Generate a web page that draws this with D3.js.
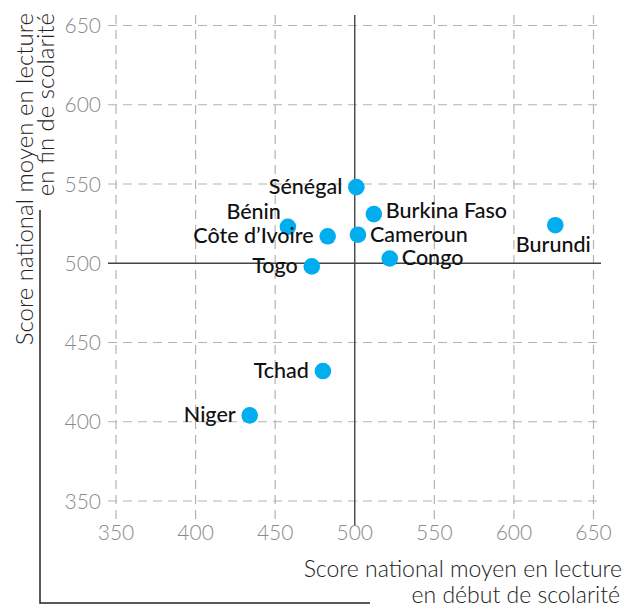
<!DOCTYPE html>
<html>
<head>
<meta charset="utf-8">
<script src="https://cdn.jsdelivr.net/npm/d3@7"></script>
<style>
  body { margin: 0; background: #fff; }
  text { font-family: Lato, "Open Sans", sans-serif; }
</style>
</head>
<body>
<div id="chart"></div>
<script>
// countries and their scores (start / end of schooling)
var countries = ["Sénégal", "Burkina Faso", "Burundi", "Cameroun", "Côte d\u2019Ivoire", "Bénin", "Congo", "Togo", "Tchad", "Niger"];
var debut = [501, 512, 626, 502, 483, 458, 522, 473, 480, 434];
var fin = [548, 531, 524, 518, 517, 523, 503, 498, 432, 404];
var ticks = [350, 400, 450, 500, 550, 600, 650];
// where the label sits relative to its dot
var labelSide = ["left", "rightup", "below", "right", "left", "aboveleft", "right", "left", "left", "left"];

var width = 626, height = 608;

var svg = d3.select("#chart").append("svg")
  .attr("width", width)
  .attr("height", height);

var x = d3.scaleLinear().domain([350, 650]).range([116, 593.5]);
var y = d3.scaleLinear().domain([350, 650]).range([501, 25.5]);

// dashed grid
var grid = svg.append("g");
grid.selectAll(".hgrid")
  .data(ticks.filter(function(t) { return t !== 500; }))
  .enter().append("line")
    .attr("x1", 108).attr("x2", 600)
    .attr("y1", function(d) { return y(d); })
    .attr("y2", function(d) { return y(d); })
    .attr("stroke", "#b3b3b3").attr("stroke-width", 1.2)
    .attr("stroke-dasharray", "9,6");
grid.selectAll(".vgrid")
  .data(ticks.filter(function(t) { return t !== 500; }))
  .enter().append("line")
    .attr("y1", 15).attr("y2", 523)
    .attr("x1", function(d) { return x(d); })
    .attr("x2", function(d) { return x(d); })
    .attr("stroke", "#b3b3b3").attr("stroke-width", 1.2)
    .attr("stroke-dasharray", "9,6");

// solid reference lines at 500
svg.append("line")
  .attr("x1", 108).attr("x2", 601)
  .attr("y1", y(500)).attr("y2", y(500))
  .attr("stroke", "#444").attr("stroke-width", 1.4);
svg.append("line")
  .attr("x1", x(500)).attr("x2", x(500))
  .attr("y1", 15).attr("y2", 525)
  .attr("stroke", "#444").attr("stroke-width", 1.4);

// tick labels
svg.selectAll(".ylab")
  .data(ticks)
  .enter().append("text")
    .attr("x", 101)
    .attr("y", function(d) { return y(d); })
    .attr("dy", ".36em")
    .attr("text-anchor", "end")
    .attr("font-size", 21).attr("font-weight", 300)
    .attr("fill", "#8a8a8a")
    .text(function(d) { return d; });
svg.selectAll(".xlab")
  .data(ticks)
  .enter().append("text")
    .attr("x", function(d) { return x(d); })
    .attr("y", 540)
    .attr("text-anchor", "middle")
    .attr("font-size", 21).attr("font-weight", 300)
    .attr("fill", "#8a8a8a")
    .text(function(d) { return d; });

// axis titles
svg.append("text")
  .attr("x", 622).attr("y", 577)
  .attr("text-anchor", "end")
  .attr("font-size", 23).attr("font-weight", 300).attr("fill", "#222")
  .text("Score national moyen en lecture");
svg.append("text")
  .attr("x", 620).attr("y", 603)
  .attr("text-anchor", "end")
  .attr("font-size", 23).attr("font-weight", 300).attr("fill", "#222")
  .text("en début de scolarité");

svg.append("text")
  .attr("transform", "translate(33,13) rotate(-90)")
  .attr("text-anchor", "end")
  .attr("font-size", 24).attr("font-weight", 300).attr("fill", "#222")
  .text("Score national moyen en lecture");
svg.append("text")
  .attr("transform", "translate(54,13) rotate(-90)")
  .attr("text-anchor", "end")
  .attr("font-size", 24).attr("font-weight", 300).attr("fill", "#222")
  .text("en fin de scolarité");

// bracket lines
svg.append("path")
  .attr("d", "M40,210V603H370")
  .attr("fill", "none").attr("stroke", "#222").attr("stroke-width", 1.5);

// points
var pts = countries.map(function(c, i) {
  return { name: c, x: debut[i], y: fin[i], side: labelSide[i] };
});

svg.selectAll(".dot")
  .data(pts)
  .enter().append("circle")
    .attr("cx", function(d) { return x(d.x); })
    .attr("cy", function(d) { return y(d.y); })
    .attr("r", 8.3)
    .attr("fill", "#00adef");

svg.selectAll(".name")
  .data(pts)
  .enter().append("text")
    .attr("x", function(d) {
      var cx = x(d.x);
      if (d.side === "right" || d.side === "rightup") return cx + 12;
      if (d.side === "below") return cx - 2;
      if (d.side === "aboveleft") return cx - 7;
      return cx - 14;
    })
    .attr("y", function(d) {
      var cy = y(d.y);
      if (d.side === "below") return cy + 27;
      if (d.side === "aboveleft") return cy - 8;
      if (d.side === "rightup") return cy + 4;
      return cy + 7;
    })
    .attr("text-anchor", function(d) {
      if (d.side === "right" || d.side === "rightup") return "start";
      if (d.side === "below") return "middle";
      return "end";
    })
    .attr("font-size", 21.5).attr("font-weight", 500).attr("fill", "#111")
    .text(function(d) { return d.name; });
</script>
</body>
</html>
